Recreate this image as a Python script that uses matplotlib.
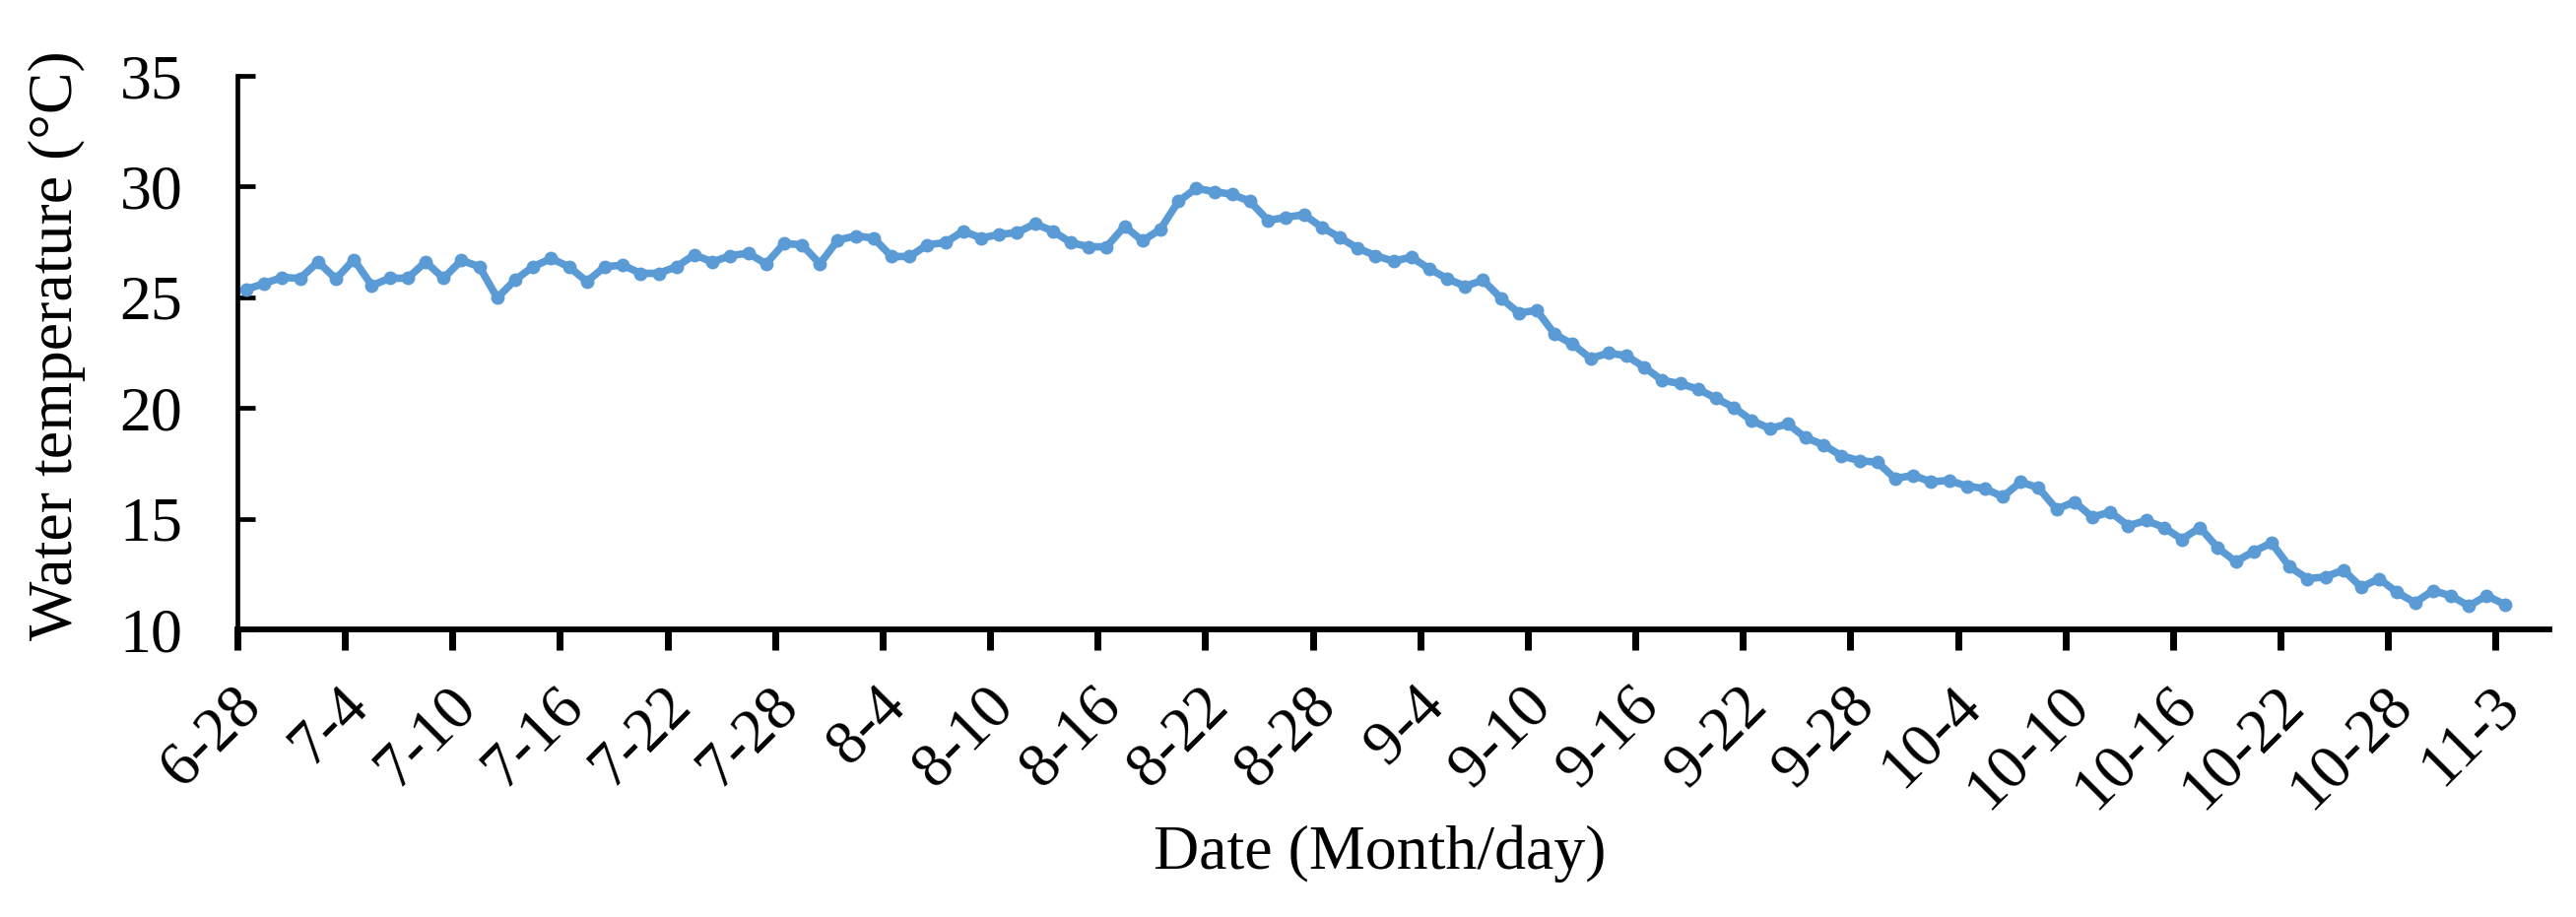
import numpy as np
import matplotlib
matplotlib.use("Agg")
import matplotlib.pyplot as plt
from matplotlib.transforms import ScaledTranslation

plt.rcParams['font.family'] = ['Liberation Serif', 'DejaVu Serif']

# Daily water temperature (deg C), one value per category
temp = [25.36, 25.62, 25.90, 25.85, 26.60, 25.83, 26.70, 25.53, 25.86, 25.86,
        26.60, 25.86, 26.67, 26.38, 24.97, 25.79, 26.38, 26.75, 26.38, 25.71,
        26.38, 26.45, 26.08, 26.08, 26.38, 26.92, 26.59, 26.88, 26.99, 26.51,
        27.43, 27.37, 26.51, 27.58, 27.77, 27.67, 26.84, 26.84, 27.37, 27.47,
        27.99, 27.67, 27.84, 27.92, 28.32, 27.99, 27.47, 27.28, 27.28, 28.21,
        27.55, 28.07, 29.33, 29.92, 29.77, 29.65, 29.33, 28.47, 28.61, 28.73,
        28.17, 27.70, 27.22, 26.88, 26.63, 26.81, 26.29, 25.84, 25.50, 25.77,
        24.96, 24.29, 24.41, 23.33, 22.88, 22.24, 22.48, 22.36, 21.84, 21.25,
        21.10, 20.85, 20.44, 20.02, 19.43, 19.07, 19.28, 18.66, 18.33, 17.84,
        17.62, 17.55, 16.81, 16.96, 16.66, 16.73, 16.47, 16.36, 15.99, 16.66,
        16.39, 15.43, 15.76, 15.07, 15.30, 14.68, 14.92, 14.60, 14.07, 14.60,
        13.68, 13.06, 13.52, 13.91, 12.83, 12.29, 12.37, 12.68, 11.91, 12.29,
        11.67, 11.21, 11.75, 11.52, 11.06, 11.52, 11.13]

# Date labels shown every 6 categories
date_labels = ['6-28', '7-4', '7-10', '7-16', '7-22', '7-28', '8-4', '8-10',
               '8-16', '8-22', '8-28', '9-4', '9-10', '9-16', '9-22', '9-28',
               '10-4', '10-10', '10-16', '10-22', '10-28', '11-3']

n_cat = 129
y_ticks = [10, 15, 20, 25, 30, 35]

fig = plt.figure(figsize=(26.15, 9.31), dpi=100)
ax = fig.add_axes([241/2615, 1 - 639/931, (2588 - 241)/2615, (639 - 77)/931])

x = np.arange(len(temp)) + 0.5
ax.plot(x, temp, color='#5B9BD5', lw=5.5, marker='o', ms=10, mew=0)

ax.set_xlim(0, n_cat)
ax.set_ylim(10, 35)
ax.set_yticks(y_ticks)
ax.set_xticks(np.arange(0, 6*len(date_labels), 6))
ax.set_xticklabels(date_labels, rotation=45, ha='right', va='center',
                   rotation_mode='anchor')

for side in ['top', 'right']:
    ax.spines[side].set_visible(False)
ax.spines['left'].set_linewidth(3.4)
ax.spines['bottom'].set_linewidth(4.2)

ax.tick_params(axis='y', direction='in', length=13, width=3.4, pad=40, labelsize=46)
ax.tick_params(axis='x', direction='out', length=15, width=5, pad=34, labelsize=46)

shift = ScaledTranslation(15/100, 0, fig.dpi_scale_trans)
for lab in ax.get_xticklabels():
    lab.set_transform(lab.get_transform() + shift)

fig.text(58/2615, 1 - 351/931, 'Water temperature (°C)', rotation=90,
         ha='center', va='center', fontsize=46)
fig.text(1401/2615, 1 - 867/931, 'Date (Month/day)', ha='center', va='center',
         fontsize=46)

fig.savefig('out.png', dpi=100)
